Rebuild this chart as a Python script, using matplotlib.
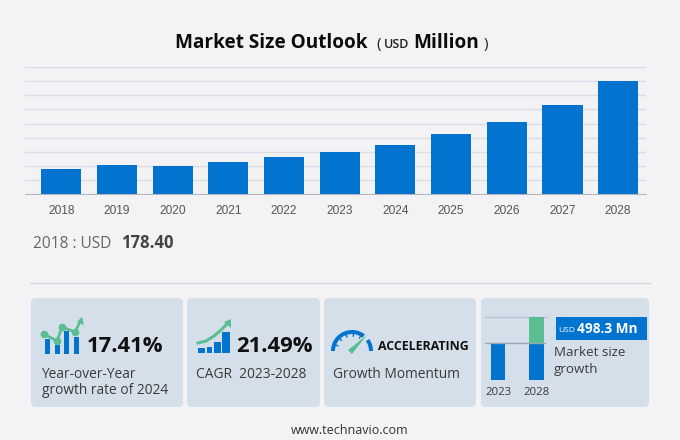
import numpy as np
from matplotlib import pyplot as plt
from matplotlib.patches import FancyBboxPatch, Rectangle, Wedge, Polygon

# values
years = ['2018', '2019', '2020', '2021', '2022', '2023', '2024', '2025', '2026', '2027', '2028']
market_size = [178.4, 204, 197, 226, 261, 300, 352, 423, 512, 632, 798]
grid_values = [100, 200, 300, 400, 500, 600, 700, 800, 900]

growth_years = ['2023', '2028']
growth_base = [300, 300]
growth_add = [0, 216]

BG = '#f3f3f6'
CARD = '#d5dfea'
BLUE = '#0274cf'
GREEN = '#5bbd94'
TEXT = '#3a3a3a'
SANS = 'Open Sans'

W, H = 680, 440
fig = plt.figure(figsize=(W / 100, H / 100), dpi=100, facecolor=BG)

# overlay in pixel coordinates for cards, text and icons
bg = fig.add_axes([0, 0, 1, 1], zorder=0)
bg.set_xlim(0, W)
bg.set_ylim(H, 0)
bg.axis('off')


def px_axes(x0, y0, x1, y1, zorder=2):
    ax = fig.add_axes([x0 / W, 1 - y1 / H, (x1 - x0) / W, (y1 - y0) / H], zorder=zorder)
    ax.patch.set_alpha(0)
    return ax


# main bars
ax = px_axes(25, 67, 646, 194.3)
x = np.arange(len(years))
ax.bar(x, market_size, width=0.72, color=BLUE, zorder=3)
ax.set_xlim(-0.65, 10.5)
ax.set_ylim(0, 900)
ax.set_yticks(grid_values)
ax.set_xticks(x)
ax.set_xticklabels(years, fontsize=8.6, color='#555555', family='Liberation Sans')
ax.tick_params(axis='x', length=0, pad=8)
ax.tick_params(axis='y', length=0, labelleft=False)
ax.grid(axis='y', color='#dcdde3', linewidth=1, zorder=0)
for s in ['top', 'left', 'right']:
    ax.spines[s].set_visible(False)
ax.spines['bottom'].set_color('#b5b7bd')

# title
bg.text(175, 43.5, 'Market Size Outlook', fontsize=13.7, fontweight='bold', color='#0c0c0c',
        family=SANS, va='center', ha='left')
bg.text(376, 44.5, '(', fontsize=11, color='#222222', family=SANS, va='center')
bg.text(384, 45, 'USD', fontsize=9, fontweight='semibold', color='#222222', family=SANS, va='center')
bg.text(413, 43.5, 'Million', fontsize=13.7, fontweight='bold', color='#0c0c0c', family=SANS, va='center')
bg.text(484, 44.5, ')', fontsize=11, color='#222222', family=SANS, va='center')

bg.text(33, 244, '2018 : USD', fontsize=11.2, color='#666666', family=SANS, va='center')
bg.text(121, 243.5, '178.40', fontsize=12, fontweight='bold', color='#444444', family=SANS, va='center')

bg.plot([30, 650], [283, 283], color='#d5d6da', linewidth=1)

# cards
for x0, x1 in [(31, 183), (187, 320), (324, 476), (481, 649)]:
    bg.add_patch(FancyBboxPatch((x0 + 4, 298 + 4), x1 - x0 - 8, 109 - 8,
                                boxstyle='round,pad=4,rounding_size=5', facecolor=CARD, edgecolor='none'))

# card 1 icon
for bx, top in [(45, 339), (55, 345), (64, 331), (74, 337)]:
    bg.add_patch(Rectangle((bx, top), 5, 354 - top, facecolor=BLUE, edgecolor='none'))
line_x = [44, 57, 62, 75, 81]
line_y = [334, 341, 327, 332, 320]
bg.plot(line_x, line_y, color=GREEN, linewidth=2)
bg.plot(line_x[:4], line_y[:4], 'o', color=GREEN, markersize=5.5, markeredgewidth=0)
bg.add_patch(Polygon([[77, 322], [82, 317], [84, 325]], facecolor=GREEN, edgecolor='none'))

bg.text(87, 347, '17.41%', fontsize=15.8, fontweight='bold', color='#111111', family=SANS, va='center')
bg.text(41.5, 374, 'Year-over-Year', fontsize=9.9, color=TEXT, family=SANS, va='center')
bg.text(41.5, 391, 'growth rate of 2024', fontsize=9.9, color=TEXT, family=SANS, va='center')

# card 2 icon
for bx0, bx1, top in [(198, 205, 348), (207, 212, 347), (214, 221, 342), (222, 230, 332)]:
    bg.add_patch(Rectangle((bx0, top), bx1 - bx0, 353.5 - top, facecolor=BLUE, edgecolor='none'))
curve_x = [198, 206, 214, 221, 228]
curve_y = [343, 341, 336, 330, 323]
bg.plot(curve_x, curve_y, color=GREEN, linewidth=2.2)
bg.add_patch(Polygon([[224, 322], [231, 319], [231, 328]], facecolor=GREEN, edgecolor='none'))

bg.text(236, 347, '21.49%', fontsize=15.8, fontweight='bold', color='#111111', family=SANS, va='center')
bg.text(196, 374, 'CAGR  2023-2028', fontsize=9.9, color=TEXT, family=SANS, va='center')

# card 3 gauge (y axis is inverted, so the top arc runs 180-360)
bg.add_patch(Wedge((352, 351), 21, 180, 308, width=4, facecolor=BLUE, edgecolor='none'))
bg.add_patch(Wedge((352, 351), 21, 325, 360, width=4, facecolor=BLUE, edgecolor='none'))
for a in np.radians([200, 225, 250, 275, 300]):
    bg.plot([352 + 17 * np.cos(a), 352 + 15 * np.cos(a)], [351 + 17 * np.sin(a), 351 + 15 * np.sin(a)],
            color=BLUE, linewidth=1)
bg.add_patch(Polygon([[348, 350], [352, 354], [367, 335]], facecolor=GREEN, edgecolor='none'))
bg.text(378, 347, 'ACCELERATING', fontsize=8.9, fontweight='bold', color='#111111', family=SANS, va='center')
bg.text(333, 374, 'Growth Momentum', fontsize=9.9, color=TEXT, family=SANS, va='center')

# card 4 mini chart
mini = px_axes(485, 317, 546, 380.3)
mini.bar([0, 1], growth_base, width=0.37, color=BLUE, zorder=3)
mini.bar([0, 1], growth_add, bottom=growth_base, width=0.37, color=GREEN, zorder=3)
mini.set_xlim(-0.35, 1.25)
mini.set_ylim(0, 516)
mini.set_xticks([0, 1])
mini.set_xticklabels(growth_years, fontsize=8.2, color=TEXT, family=SANS)
mini.tick_params(axis='x', length=0, pad=5)
mini.set_yticks([])
for s in mini.spines.values():
    s.set_visible(False)
mini.axhline(516, color='#b9c3cf', linewidth=1, zorder=1, clip_on=False)
mini.axhline(300, color='#9aa7b5', linewidth=1, zorder=4)

bg.add_patch(Rectangle((556, 317), 91, 23, facecolor=BLUE, edgecolor='none'))
bg.text(558, 330, 'USD', fontsize=6, color='white', family=SANS, va='center')
bg.text(577, 329, '498.3 Mn', fontsize=9.8, fontweight='bold', color='white', family=SANS, va='center')
bg.text(554, 353, 'Market size', fontsize=9.6, color=TEXT, family=SANS, va='center')
bg.text(554, 370, 'growth', fontsize=9.6, color=TEXT, family=SANS, va='center')

bg.text(350, 430, 'www.technavio.com', fontsize=9, color='#333333', family=SANS, va='center', ha='center')

fig.savefig('out.png', dpi=100, facecolor=BG)
